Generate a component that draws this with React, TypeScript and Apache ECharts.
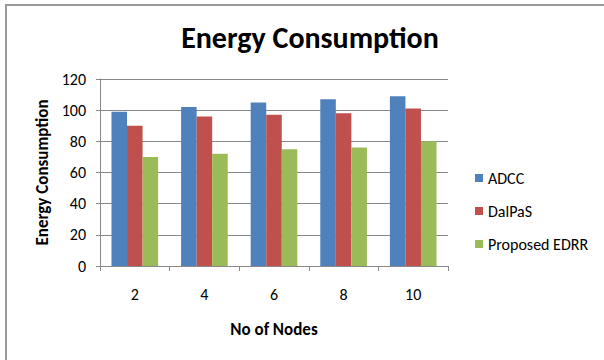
import React, { useEffect, useRef } from "react";
import * as echarts from "echarts";

const categories = ["2", "4", "6", "8", "10"];
const adcc = [99, 102, 105, 107, 109];
const dalpas = [90, 96, 97, 98, 101];
const edrr = [70, 72, 75, 76, 80];
const seriesNames = ["ADCC", "DalPaS", "Proposed EDRR"];
const colors = ["#4F81BD", "#C0504D", "#9BBB59"];

const FONT = "Carlito, 'Open Sans', 'Noto Sans', sans-serif";

export default function App() {
  const ref = useRef<HTMLDivElement>(null);
  useEffect(() => {
    if (!ref.current) return;
    const chart = echarts.init(ref.current, null, { renderer: "svg" });
    const data = [adcc, dalpas, edrr];
    chart.setOption({
      animation: false,
      backgroundColor: "#ffffff",
      textStyle: { fontFamily: FONT },
      title: {
        text: "Energy Consumption",
        left: 305,
        textAlign: "center",
        top: 17,
        textStyle: { fontFamily: FONT, fontSize: 30, fontWeight: "bold", color: "#000" },
      },
      graphic: [
        {
          type: "rect",
          shape: { x: 6, y: 5, width: 700, height: 500 },
          style: { fill: "none", stroke: "#9a9a9a", lineWidth: 2 },
          silent: true,
        },
      ],
      legend: {
        orient: "vertical",
        left: 470,
        top: 165,
        itemWidth: 8,
        itemHeight: 8,
        itemGap: 17,
        icon: "rect",
        data: seriesNames,
        textStyle: { fontFamily: FONT, fontSize: 16, color: "#000" },
      },
      grid: { left: 100, right: 156, top: 79, bottom: 94 },
      xAxis: {
        type: "category",
        data: categories,
        name: "No of Nodes",
        nameLocation: "middle",
        nameGap: 55,
        nameTextStyle: { fontFamily: FONT, fontSize: 17, fontWeight: "bold", color: "#000" },
        axisLine: { lineStyle: { color: "#888", width: 1 } },
        axisTick: { show: true, length: 5, lineStyle: { color: "#888" } },
        axisLabel: { margin: 20, fontSize: 16, color: "#000", fontFamily: FONT },
      },
      yAxis: {
        type: "value",
        min: 0,
        max: 120,
        interval: 20,
        name: "Energy Consumption",
        nameLocation: "middle",
        nameGap: 48,
        nameTextStyle: { fontFamily: FONT, fontSize: 17, fontWeight: "bold", color: "#000" },
        axisLine: { show: true, lineStyle: { color: "#888", width: 1 } },
        axisTick: { show: true, length: 4, lineStyle: { color: "#888" } },
        axisLabel: { margin: 14, fontSize: 16, color: "#000", fontFamily: FONT },
        splitLine: { lineStyle: { color: "#888", width: 1 } },
      },
      series: seriesNames.map((name, i) => ({
        name,
        type: "bar",
        data: data[i],
        barGap: "0%",
        barCategoryGap: "33%",
        itemStyle: { color: colors[i] },
      })),
    });
    return () => chart.dispose();
  }, []);
  return <div ref={ref} style={{ width: 604, height: 360, position: "absolute", left: 0, top: 0 }} />;
}
